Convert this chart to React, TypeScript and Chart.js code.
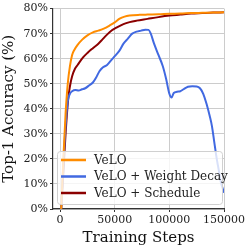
import React, { useEffect, useRef } from "react";
import { Chart, registerables } from "chart.js";

Chart.register(...registerables);

const veloSteps = [1000, 3000, 5000, 7000, 9000, 11000, 13000, 16000, 20000, 25000, 30000, 35000, 40000, 45500, 50000, 54500, 59000, 63600, 72700, 80000, 90000, 100000, 110000, 120000, 130000, 140000, 150000];
const veloAcc = [0, 20, 38, 50, 57, 61.5, 63.5, 65.5, 67.5, 69.3, 70.5, 71.2, 72, 73.3, 74.5, 76, 76.8, 77.2, 77.5, 77.6, 77.7, 77.9, 78, 78.2, 78.3, 78.4, 78.5];

const schedSteps = [1000, 3000, 5000, 7300, 9000, 11000, 13600, 16000, 21000, 25000, 30000, 35000, 39000, 45500, 52000, 58000, 63600, 70000, 80000, 90000, 100000, 110000, 120000, 130000, 140000, 150000];
const schedAcc = [0, 15, 30, 43.5, 49, 53, 56, 57.5, 60.5, 62.3, 64.2, 66, 67.8, 70.7, 72.5, 73.8, 74.6, 75.2, 75.9, 76.6, 77.2, 77.6, 78, 78.2, 78.4, 78.5];

const wdSteps = [1000, 3000, 5000, 7000, 9000, 11000, 14000, 17000, 20000, 23000, 27000, 30000, 33000, 36000, 39000, 43000, 47000, 50000, 54000, 58000, 62000, 66000, 70000, 74000, 78000, 81000, 83000, 86000, 90000, 94000, 97000, 100000, 102000, 104000, 107000, 110000, 113000, 117000, 121000, 125000, 128000, 131000, 134000, 137000, 139000, 141000, 143000, 145000, 147000, 150000];
const wdAcc = [0, 18, 33, 43, 46, 47, 47.5, 47.3, 47.8, 48.2, 49.5, 50.5, 52.5, 55, 56.5, 57.5, 59.5, 61, 63, 66, 68, 70, 70.8, 71.2, 71.6, 71.5, 70, 66, 61.5, 57, 52, 46, 44.5, 46.3, 46.8, 47, 47.8, 48.8, 49, 48.9, 48.2, 46, 42, 37, 33, 27, 21, 16, 11, 6.5];

const seriesLabels = ["VeLO", "VeLO + Weight Decay", "VeLO + Schedule"];
const seriesColors = ["#ff8c00", "#4169e1", "#8b0000"];
const xTicks = [0, 50000, 100000, 150000];
const yTicks = [0, 10, 20, 30, 40, 50, 60, 70, 80];

const FONT = "'DejaVu Serif', serif";

const toPts = (xs: number[], ys: number[]) => xs.map((x, i) => ({ x, y: ys[i] }));

const legendPlugin = {
  id: "innerLegend",
  afterDatasetsDraw(chart: any) {
    const ctx = chart.ctx;
    const a = chart.chartArea;
    const x0 = a.left + 4;
    const y0 = a.bottom - 58;
    const w = a.right - a.left - 6;
    const h = 53;
    ctx.save();
    ctx.fillStyle = "rgba(255,255,255,0.8)";
    ctx.strokeStyle = "#d0d0d0";
    ctx.lineWidth = 1;
    ctx.beginPath();
    (ctx as any).roundRect(x0 + 0.5, y0 + 0.5, w, h, 3);
    ctx.fill();
    ctx.stroke();
    ctx.font = "12px " + FONT;
    ctx.textBaseline = "middle";
    chart.data.datasets.forEach((ds: any, i: number) => {
      const yy = y0 + 9 + i * 16.5;
      ctx.strokeStyle = ds.borderColor;
      ctx.lineWidth = 2.5;
      ctx.beginPath();
      ctx.moveTo(x0 + 4, yy);
      ctx.lineTo(x0 + 29, yy);
      ctx.stroke();
      ctx.fillStyle = "#222";
      ctx.fillText(ds.label, x0 + 37, yy + 0.5);
    });
    ctx.restore();
  },
};

export default function App() {
  const ref = useRef<HTMLCanvasElement>(null);
  useEffect(() => {
    document.body.style.margin = "0";
    const grid = {
      color: "#cccccc",
      borderDash: [3, 2],
      lineWidth: 1,
      drawTicks: true,
      tickLength: 3,
      tickColor: "#333",
      tickBorderDash: [],
    };
    const chart = new Chart(ref.current!, {
      type: "line",
      data: {
        datasets: [
          { label: seriesLabels[0], data: toPts(veloSteps, veloAcc), borderColor: seriesColors[0] },
          { label: seriesLabels[1], data: toPts(wdSteps, wdAcc), borderColor: seriesColors[1] },
          { label: seriesLabels[2], data: toPts(schedSteps, schedAcc), borderColor: seriesColors[2] },
        ].map((d) => ({ ...d, borderWidth: 2, pointRadius: 0, cubicInterpolationMode: "monotone", fill: false })),
      },
      options: {
        responsive: false,
        animation: false,
        layout: { padding: { top: 8, right: 25, left: 0, bottom: 0 } },
        plugins: { legend: { display: false }, tooltip: { enabled: false } },
        scales: {
          x: {
            type: "linear",
            min: -6500,
            max: 150000,
            afterBuildTicks: (s: any) => {
              s.ticks = xTicks.map((v) => ({ value: v }));
            },
            afterFit: (s: any) => {
              s.height = 40;
            },
            ticks: { font: { family: FONT, size: 11 }, color: "#222", padding: 2, maxRotation: 0, callback: (v: any) => String(v) },
            grid,
            border: { display: true, color: "#333", width: 1.2 },
            title: { display: true, text: "Training Steps", font: { family: FONT, size: 15 }, color: "#111", padding: { top: 0, bottom: 2 } },
          },
          y: {
            min: 0,
            max: 80,
            afterBuildTicks: (s: any) => {
              s.ticks = yTicks.map((v) => ({ value: v }));
            },
            afterFit: (s: any) => {
              s.width = 53;
            },
            ticks: { font: { family: FONT, size: 11 }, color: "#222", padding: 2, callback: (v: any) => v + "%" },
            grid,
            border: { display: true, color: "#333", width: 1.2 },
            title: { display: true, text: "Top-1 Accuracy (%)", font: { family: FONT, size: 15 }, color: "#111", padding: { top: 0, bottom: 0 } },
          },
        },
      } as any,
      plugins: [legendPlugin],
    });
    return () => chart.destroy();
  }, []);
  return <canvas ref={ref} width={249} height={249} />;
}
